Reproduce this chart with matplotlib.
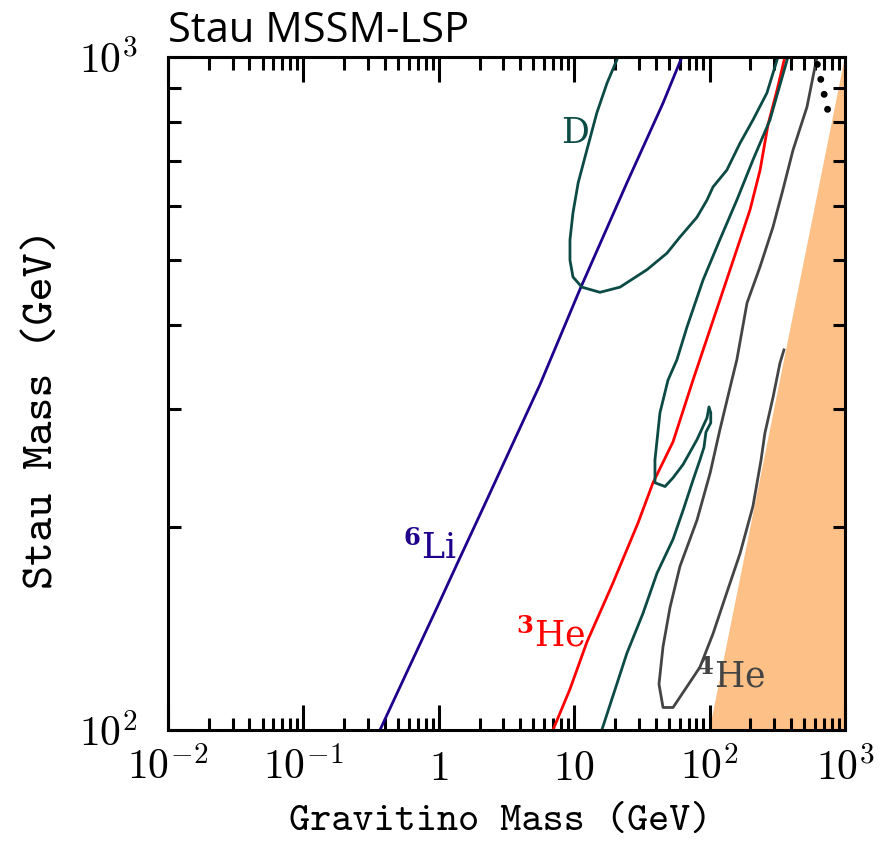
import os
import matplotlib
matplotlib.use("Agg")
import matplotlib.pyplot as plt
from matplotlib.font_manager import FontProperties
from matplotlib.ticker import FixedLocator, FixedFormatter, NullFormatter, LogLocator

plt.rcParams['mathtext.fontset'] = 'cm'

# 6Li bound
li6_x = [0.368, 0.577, 0.970, 1.41, 2.20, 3.27, 5.59, 11.0, 24.5, 45.3, 62.5]
li6_y = [100, 121.5, 152, 179, 217, 258, 326, 451, 650, 854, 1000]

# 3He bound
he3_x = [6.97, 9.31, 12.4, 19.0, 29.6, 38.2, 53.7, 75.4, 119, 168, 199, 236, 270, 315, 360]
he3_y = [100, 115, 135, 164, 203, 233, 268, 331, 435, 535, 593, 679, 793, 893, 1000]

# D bound, upper loop
d1_x = [21.1, 17.5, 14.7, 12.4, 10.7, 9.8, 9.31, 9.31, 9.8, 11.4, 15.5, 21.8, 34.5, 48.4,
        60.4, 80.7, 95.7, 106, 134, 168, 209, 265, 320]
d1_y = [1000, 915, 826, 727, 650, 587, 535, 499, 471, 455, 447, 455, 483, 511,
        540, 578, 613, 641, 679, 745, 806, 884, 1000]

# D bound, lower branch with spike
d2_x = [379, 279, 209, 159, 119, 89.4, 68.1, 57.4, 49.3, 43.0, 39.5, 39.5, 46.9, 53.7, 63.7,
        80.7, 95.7, 99.0, 102, 102, 94.0, 90.9, 84.9, 75.4, 63.7, 53.7, 40.9, 32.2, 24.5, 16.0]
d2_y = [1000, 806, 703, 613, 535, 466, 397, 355, 331, 296, 252, 233, 230, 237, 248,
        270, 291, 302, 296, 286, 277, 263, 252, 235, 212, 192, 171, 149, 130, 100]

# 4He bound
he4_x = [621, 524, 413, 348, 294, 236, 189, 159, 146, 119, 101, 80.7, 60.4, 51.0, 45.3, 42.3,
         45.3, 53.7, 68.1, 84.9, 106, 134, 168, 209, 240, 256, 294, 331, 354]
he4_y = [1000, 843, 727, 635, 559, 488, 431, 355, 331, 279, 241, 205, 175, 152, 133, 117,
         108, 108, 116, 124, 139, 160, 183, 215, 252, 276, 312, 351, 367]

# dotted black segment top right
dot_x = [625, 775]
dot_y = [975, 806]

# gravitino heavier than stau
excl_x = [100, 1000, 1000]
excl_y = [100, 1000, 100]

xtick_vals = [1e-2, 1e-1, 1, 10, 1e2, 1e3]
xtick_labels = [r'$10^{-2}$', r'$10^{-1}$', r'$1$', r'$10$', r'$10^{2}$', r'$10^{3}$']
ytick_vals = [1e2, 1e3]
ytick_labels = [r'$10^{2}$', r'$10^{3}$']

c_d = '#0b4a45'
c_li = '#1e008c'
c_he3 = '#ff0000'
c_he4 = '#444444'

tt_path = os.path.join(matplotlib.get_data_path(), 'fonts', 'ttf', 'cmtt10.ttf')

fig = plt.figure(figsize=(8.92, 8.44), dpi=100)
ax = fig.add_axes([0.1883, 0.1351, 0.7590, 0.7974])
ax.set_xscale('log')
ax.set_yscale('log')

ax.fill(excl_x, excl_y, color='#fdc086', lw=0, zorder=1)
ax.plot(li6_x, li6_y, color=c_li, lw=2, zorder=2)
ax.plot(he3_x, he3_y, color=c_he3, lw=2, zorder=2)
ax.plot(d1_x, d1_y, color=c_d, lw=2, zorder=2)
ax.plot(d2_x, d2_y, color=c_d, lw=2, zorder=2)
ax.plot(he4_x, he4_y, color=c_he4, lw=2, zorder=2)
ax.plot(dot_x, dot_y, color='black', lw=5, linestyle=(0, (0.01, 2.2)),
        dash_capstyle='round', zorder=3)

ax.set_xlim(1e-2, 1e3)
ax.set_ylim(1e2, 1e3)

lab = dict(family='DejaVu Serif', math_fontfamily='dejavuserif', fontsize=25,
           ha='center', va='center')
ax.text(10.1, 771, 'D', color=c_d, **lab)
ax.text(0.86, 186, r'$^{\mathbf{6}}$Li', color=c_li, **lab)
ax.text(6.74, 138, r'$^{\mathbf{3}}$He', color=c_he3, **lab)
ax.text(144, 120, r'$^{\mathbf{4}}$He', color=c_he4, **lab)

ax.xaxis.set_major_locator(FixedLocator(xtick_vals))
ax.xaxis.set_major_formatter(FixedFormatter(xtick_labels))
ax.xaxis.set_minor_locator(LogLocator(base=10, subs=range(2, 10)))
ax.xaxis.set_minor_formatter(NullFormatter())
ax.yaxis.set_major_locator(FixedLocator(ytick_vals))
ax.yaxis.set_major_formatter(FixedFormatter(ytick_labels))
ax.yaxis.set_minor_locator(LogLocator(base=10, subs=range(2, 10)))
ax.yaxis.set_minor_formatter(NullFormatter())

ax.tick_params(which='both', direction='in', top=True, right=True, width=2.2, labelsize=30)
ax.tick_params(which='major', length=18)
ax.tick_params(which='minor', length=9)
ax.tick_params(axis='x', pad=12)
ax.tick_params(axis='y', pad=22)
for s in ax.spines.values():
    s.set_linewidth(2.2)

fig.text(0.1883, 0.950, 'Stau MSSM-LSP', family='Open Sans', fontsize=30, va='baseline')
fig.text(0.5605, 0.026, 'Gravitino Mass (GeV)', fontproperties=FontProperties(fname=tt_path, size=29),
         ha='center', va='center')
fig.text(0.048, 0.5154, 'Stau Mass (GeV)', fontproperties=FontProperties(fname=tt_path, size=33),
         ha='center', va='center', rotation=90)

fig.savefig('out.png', dpi=100)
